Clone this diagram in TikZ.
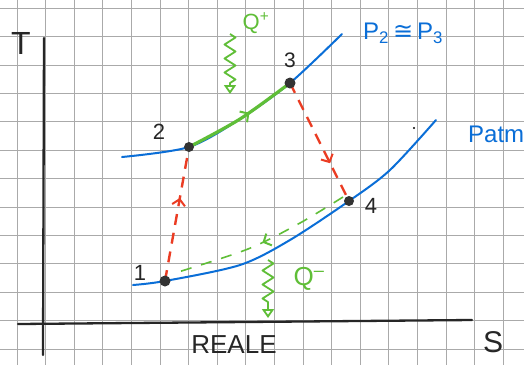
\documentclass[tikz,border=0pt]{standalone}
\usepackage{fontspec}
\setmainfont{Liberation Sans}
\newfontfamily\symbfont{DejaVu Sans}
\usetikzlibrary{arrows.meta,decorations.markings,decorations.pathmorphing}
\definecolor{penblue}{RGB}{10,110,215}
\definecolor{penred}{RGB}{235,60,35}
\definecolor{pengreen}{RGB}{95,190,55}
\definecolor{gridgray}{RGB}{170,170,170}
\begin{document}
\begin{tikzpicture}[x=1pt,y=-1pt,
  gridline/.style={gridgray, line width=1pt},
  axisline/.style={black!85, line width=2.3pt, line cap=round},
  isobar/.style={penblue, line width=2pt, line cap=round},
  heatin/.style={pengreen, line width=3.2pt, line cap=round},
  redproc/.style={penred, line width=2.4pt, dash pattern=on 11pt off 8pt},
  greenproc/.style={pengreen, line width=1.6pt, dash pattern=on 11pt off 10pt},
  statept/.style={circle, fill=black!80, inner sep=0pt, minimum size=11pt},
  handtxt/.style={inner sep=0pt, text=black!85},
  squig/.style={pengreen, line width=1.8pt, line join=round, decorate,
    decoration={zigzag, amplitude=5.5pt, segment length=14pt, post length=10pt}},
  midarrow/.style 2 args={postaction={decorate, decoration={markings,
    mark=at position #1 with {\arrow{Straight Barb[length=6pt, width=13pt, line width=2pt, color=#2]}}}}}
]
\useasboundingbox (0,0) rectangle (524,365);
\clip (0,0) rectangle (524,365);
\fill[white] (0,0) rectangle (524,365);
% grid paper
\foreach \i in {0,...,18} \draw[gridline] ({17+28.6*\i},0) -- ({17+28.6*\i},365);
\foreach \j in {0,...,12} \draw[gridline] (0,{8.3+28.4*\j}) -- (524,{8.3+28.4*\j});
% axes
\coordinate (tax1) at (44,38);
\coordinate (tax2) at (43,355);
\coordinate (sax1) at (18,324);
\coordinate (sax2) at (472,320);
\draw[axisline] (tax1) -- (tax2);
\draw[axisline] (sax1) -- (sax2);
% state points
\coordinate (p1) at (165,281);
\coordinate (p2) at (189,147);
\coordinate (p3) at (290,83);
\coordinate (p4) at (349,201);
% isobars
\coordinate (ua) at (122,157);
\coordinate (um) at (240,119);
\coordinate (ub) at (342,34);
\coordinate (la) at (133,285);
\coordinate (lm1) at (240,265);
\coordinate (lm2) at (290,240);
\coordinate (lm3) at (390,170);
\coordinate (lb) at (436,120);
\draw[isobar] plot[smooth] coordinates {(la) (p1) (lm1) (lm2) (p4) (lm3) (lb)};
\draw[isobar] plot[smooth] coordinates {(ua) (p2) (um) (p3) (ub)};
% heat input 2-3
\draw[heatin, midarrow={0.58}{pengreen}] plot[smooth] coordinates {(p2) (um) (p3)};
% red processes
\draw[redproc, midarrow={0.62}{penred}] (p1) -- (p2);
\draw[redproc, midarrow={0.68}{penred}] (p3) -- (p4);
% green dashed 4-1
\coordinate (g4) at (343,197);
\coordinate (gm1) at (300,223);
\coordinate (gm2) at (248,249);
\coordinate (g1) at (175,273);
\draw[greenproc, midarrow={0.5}{pengreen}] plot[smooth] coordinates {(g4) (gm1) (gm2) (g1)};
% squiggly heat arrows
\coordinate (qpa) at (230,34);
\coordinate (qpb) at (230,94);
\coordinate (qma) at (268,260);
\coordinate (qmb) at (268,318);
\draw[squig, -{Triangle[open, length=9pt, width=12pt]}] (qpa) -- (qpb);
\draw[squig, -{Triangle[open, length=9pt, width=12pt]}] (qma) -- (qmb);
% dots
\node[statept] (d1) at (p1) {};
\node[statept, minimum size=10pt] (d2) at (p2) {};
\node[statept] (d3) at (p3) {};
\node[statept, minimum size=10pt] (d4) at (p4) {};
\fill[black] (414,128) circle (1.2pt);
% labels
\node[handtxt, font=\fontsize{32}{32}\selectfont] (tlab) at (21,43) {T};
\node[handtxt, font=\fontsize{30}{30}\selectfont] (slab) at (493,342) {S};
\node[handtxt, font=\fontsize{26}{26}\selectfont] (reale) at (234,345) {REALE};
\node[handtxt, font=\fontsize{22}{22}\selectfont] (n1) at (140,273) {1};
\node[handtxt, font=\fontsize{22}{22}\selectfont] (n2) at (159,132) {2};
\node[handtxt, font=\fontsize{21}{21}\selectfont] (n3) at (290,60) {3};
\node[handtxt, font=\fontsize{22}{22}\selectfont] (n4) at (371,206) {4};
\node[inner sep=0pt, text=pengreen, font=\fontsize{22}{22}\selectfont] (qplus) at (256,23) {Q\textsuperscript{+}};
\node[inner sep=0pt, text=pengreen, font=\fontsize{26}{26}\selectfont] (qminus) at (309,279) {Q\textsuperscript{–}};
\node[inner sep=0pt, anchor=west, text=penblue, font=\fontsize{24}{24}\selectfont] (pequal) at (363,33) {P\textsubscript{2}\,{\symbfont ≅}\,P\textsubscript{3}};
\node[inner sep=0pt, anchor=west, text=penblue, font=\fontsize{24}{24}\selectfont] (patm) at (468,134) {Patm};
\end{tikzpicture}
\end{document}
